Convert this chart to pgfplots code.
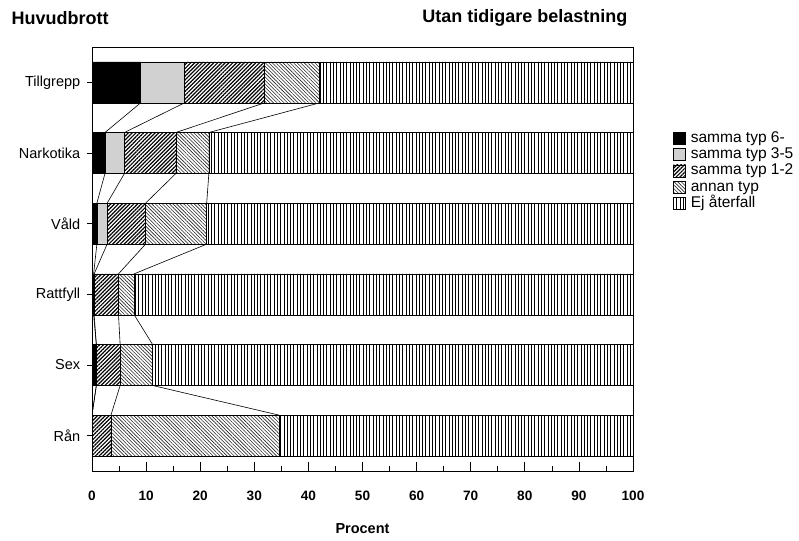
\documentclass[border=0pt]{standalone}
\usepackage{pgfplots}
\pgfplotsset{compat=1.18}
\usepackage{fontspec}
\setmainfont{Liberation Sans}
\usetikzlibrary{patterns.meta}
\pgfplotsset{
  mylegend/.style={legend image code/.code={\draw[##1,draw=black,line width=0.6pt] (0pt,-6pt) rectangle (12pt,6pt);}},
}
\begin{document}
\begin{tikzpicture}[x=1pt,y=1pt]
\useasboundingbox (0,0) rectangle (799,540);
\node[anchor=west,font=\fontsize{18}{20}\selectfont\bfseries] at (8,522) {Huvudbrott};
\node[anchor=east,font=\fontsize{18}{20}\selectfont\bfseries] at (631,522) {Utan tidigare belastning};
\begin{axis}[
  at={(92pt,69pt)}, anchor=south west,
  scale only axis, width=541pt, height=424pt,
  xmin=0, xmax=100, ymin=-0.5, ymax=5.5,
  xbar stacked, bar width=0.58,
  axis line style={line width=0.8pt},
  xtick={0,10,...,100}, minor x tick num=1,
  xtick pos=bottom, ytick pos=left,
  xtick align=inside,
  x tick style={black, line width=0.7pt, /pgfplots/major tick length=9pt, /pgfplots/minor tick length=5pt},
  y tick style={black, line width=0.7pt, /pgfplots/major tick length=5pt},
  ytick={0,1,2,3,4,5}, ytick align=outside,
  yticklabels={Rån,Sex,Rattfyll,Våld,Narkotika,Tillgrepp},
  /pgf/number format/assume math mode=true,
  xticklabel style={font=\fontsize{13.6}{15}\selectfont\bfseries, yshift=-16pt},
  yticklabel style={font=\fontsize{14.5}{16}\selectfont, xshift=-4pt},
  xlabel={Procent},
  xlabel style={font=\fontsize{14.5}{16}\selectfont\bfseries, yshift=-16pt},
  legend style={at={(1.074,0.805)}, anchor=north west, draw=none, fill=none,
    row sep=0pt, inner sep=0pt, column sep=4pt,
    font=\fontsize{15.5}{17}\selectfont,
    nodes={text height=11.5pt, text depth=3.5pt, inner ysep=0.7pt, inner xsep=1pt},
    cells={anchor=west}},
  legend cell align=left,
  unbounded coords=jump,
]
\addplot[mylegend, fill=black, draw=black, line width=0.6pt] coordinates
  {(0,0) (0.8,1) (0.3,2) (0.9,3) (2.4,4) (9,5)};
\addlegendentry{\fontsize{15.5}{17}\selectfont samma typ 6-}
\addplot[mylegend, fill=black!18, draw=black, line width=0.6pt] coordinates
  {(0,0) (0,1) (0.1,2) (1.9,3) (3.6,4) (8.1,5)};
\addlegendentry{\fontsize{15.5}{17}\selectfont samma typ 3-5}
\addplot[mylegend, draw=black, line width=0.6pt, pattern={Lines[angle=45,distance=2.7pt,line width=1.2pt]}, pattern color=black] coordinates
  {(3.5,0) (4.4,1) (4.5,2) (7.1,3) (9.5,4) (14.8,5)};
\addlegendentry{\fontsize{15.5}{17}\selectfont samma typ 1-2}
\addplot[mylegend, draw=black, line width=0.6pt, pattern={Lines[angle=-45,distance=2.5pt,line width=0.6pt]}, pattern color=black!85] coordinates
  {(31.1,0) (6.0,1) (2.9,2) (11.3,3) (6.1,4) (10.2,5)};
\addlegendentry{\fontsize{15.5}{17}\selectfont annan typ}
\addplot[mylegend, draw=black, line width=0.6pt, pattern={Lines[angle=90,distance=3.3pt,line width=0.6pt]}, pattern color=black] coordinates
  {(65.4,0) (88.8,1) (92.2,2) (78.8,3) (78.4,4) (57.9,5)};
\addlegendentry{\fontsize{15.5}{17}\selectfont Ej återfall}
% series lines
\addplot[sharp plot, stack plots=false, forget plot, black, line width=0.6pt] coordinates
  {(9,4.71) (2.4,4.29) (nan,nan) (2.4,3.71) (0.9,3.29) (nan,nan) (0.9,2.71) (0.3,2.29) (nan,nan) (0.3,1.71) (0.8,1.29) (nan,nan) (0.8,0.71) (0,0.29)};
\addplot[sharp plot, stack plots=false, forget plot, black, line width=0.6pt] coordinates
  {(17.1,4.71) (6.0,4.29) (nan,nan) (6.0,3.71) (2.8,3.29) (nan,nan) (2.8,2.71) (0.4,2.29) (nan,nan) (0.4,1.71) (0.8,1.29) (nan,nan) (0.8,0.71) (0,0.29)};
\addplot[sharp plot, stack plots=false, forget plot, black, line width=0.6pt] coordinates
  {(31.9,4.71) (15.5,4.29) (nan,nan) (15.5,3.71) (9.9,3.29) (nan,nan) (9.9,2.71) (4.9,2.29) (nan,nan) (4.9,1.71) (5.2,1.29) (nan,nan) (5.2,0.71) (3.5,0.29)};
\addplot[sharp plot, stack plots=false, forget plot, black, line width=0.6pt] coordinates
  {(42.1,4.71) (21.6,4.29) (nan,nan) (21.6,3.71) (21.2,3.29) (nan,nan) (21.2,2.71) (7.8,2.29) (nan,nan) (7.8,1.71) (11.2,1.29) (nan,nan) (11.2,0.71) (34.6,0.29)};
\end{axis}
\end{tikzpicture}
\end{document}
